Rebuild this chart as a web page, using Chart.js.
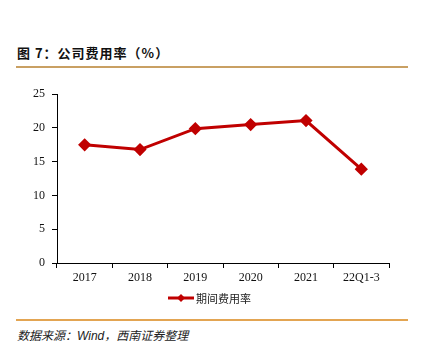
<!DOCTYPE html>
<html><head><meta charset="utf-8">
<script src="https://cdn.jsdelivr.net/npm/chart.js@4"></script>
<style>
html,body{margin:0;padding:0;background:#fff;width:422px;height:357px;overflow:hidden;position:relative;font-family:"Noto Sans CJK SC",sans-serif;}
#title{position:absolute;left:17px;top:43px;font-size:13px;font-weight:bold;color:#111;letter-spacing:1px;white-space:nowrap;}
#l1{position:absolute;left:16px;top:66px;width:392px;height:1.5px;background:#C9A063;}
#l2{position:absolute;left:16px;top:319px;width:392px;height:1.5px;background:#E3A552;}
#src{position:absolute;left:17px;top:326px;font-size:12px;font-style:italic;color:#222;white-space:nowrap;}
#wrap{position:absolute;left:0;top:80px;width:422px;height:230px;}
</style></head><body>
<div id="title">图 7：公司费用率（%）</div>
<div id="l1"></div>
<div id="wrap"><canvas id="c"></canvas></div>
<div id="l2"></div>
<div id="src">数据来源：<span style="font-family:Arial,'Liberation Sans',sans-serif">Wind</span>，西南证券整理</div>
<script>
const categories = ["2017","2018","2019","2020","2021","22Q1-3"];
const seriesName = "期间费用率";
const values = [17.5, 16.8, 19.9, 20.5, 21.1, 13.9];
const yTicks = [0,5,10,15,20,25];
const lineColor = "#C00000";

const legendPlugin = {
  id:'customLegend',
  afterDraw(chart){
    const ctx = chart.ctx;
    const y = 218;
    const x0 = 168;
    ctx.save();
    ctx.strokeStyle = lineColor; ctx.lineWidth = 3;
    ctx.beginPath(); ctx.moveTo(x0,y); ctx.lineTo(x0+26,y); ctx.stroke();
    ctx.fillStyle = lineColor;
    const cx = x0+13, r=4;
    ctx.beginPath(); ctx.moveTo(cx,y-r); ctx.lineTo(cx+r,y); ctx.lineTo(cx,y+r); ctx.lineTo(cx-r,y); ctx.closePath(); ctx.fill();
    ctx.fillStyle = "#222"; ctx.font = '11px "Noto Sans CJK SC"'; ctx.textBaseline='middle'; ctx.textAlign='left';
    ctx.fillText(seriesName, x0+28, y+1);
    ctx.restore();
  }
};

new Chart(document.getElementById('c'), {
  type:'line',
  data:{labels:categories, datasets:[{label:seriesName, data:values, borderColor:lineColor, backgroundColor:lineColor, borderWidth:3, pointStyle:'rectRot', pointRadius:4.5, pointHoverRadius:4.5, tension:0}]},
  options:{
    responsive:true, maintainAspectRatio:false, animation:false,
    devicePixelRatio:1,
    layout:{padding:{top:3,right:33,bottom:0,left:0}},
    plugins:{legend:{display:false}, tooltip:{enabled:false}},
    scales:{
      x:{offset:true,
        grid:{offset:true, drawOnChartArea:false, tickLength:5, color:'#000', tickColor:'#000'},
        border:{color:'#000', width:1},
        ticks:{color:'#111', padding:3, font:{family:'"Liberation Serif","Times New Roman",serif', size:12}},
        afterFit(s){ s.height = 47; }
      },
      y:{min:0,max:25,
        afterBuildTicks(s){ s.ticks = yTicks.map(v=>({value:v})); },
        grid:{drawOnChartArea:false, tickLength:5, color:'#000', tickColor:'#000'},
        border:{color:'#000', width:1},
        ticks:{color:'#111', padding:7, font:{family:'"Liberation Serif","Times New Roman",serif', size:12}},
        afterFit(s){ s.width = 57; }
      }
    }
  },
  plugins:[legendPlugin]
});
</script>
</body></html>
